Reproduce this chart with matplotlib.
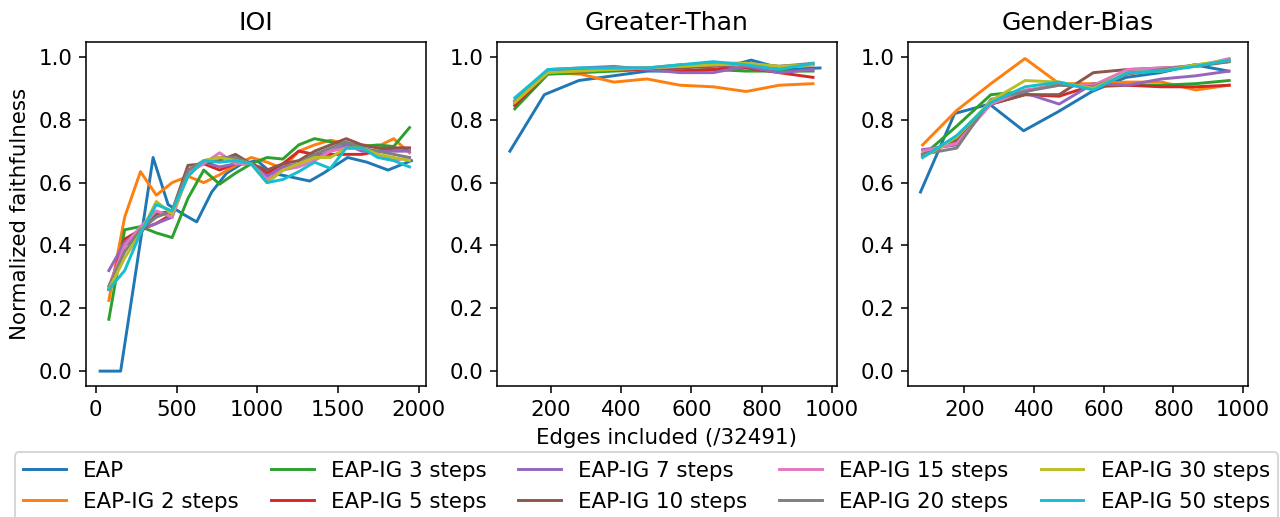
import matplotlib.pyplot as plt

labels = ['EAP', 'EAP-IG 2 steps', 'EAP-IG 3 steps', 'EAP-IG 5 steps', 'EAP-IG 7 steps',
          'EAP-IG 10 steps', 'EAP-IG 15 steps', 'EAP-IG 20 steps', 'EAP-IG 30 steps',
          'EAP-IG 50 steps']
titles = ['IOI', 'Greater-Than', 'Gender-Bias']

# IOI: EAP was evaluated at slightly different edge counts
ioi_x_eap = [27, 154, 255, 355, 448, 540, 625, 718, 810, 905, 1000, 1090, 1190, 1325,
             1410, 1560, 1680, 1810, 1955]
ioi_x = [81, 179, 277, 375, 473, 571, 669, 767, 865, 963, 1061, 1159, 1257, 1355, 1453,
         1551, 1649, 1747, 1845, 1943]
ioi_vals = [
    [0.0, 0.0, 0.34, 0.68, 0.53, 0.50, 0.475, 0.57, 0.63, 0.66, 0.67, 0.63, 0.62, 0.605,
     0.63, 0.68, 0.665, 0.64, 0.67],
    [0.225, 0.49, 0.635, 0.56, 0.60, 0.62, 0.60, 0.625, 0.655, 0.68, 0.665, 0.645, 0.70,
     0.72, 0.735, 0.725, 0.72, 0.715, 0.74, 0.695],
    [0.165, 0.45, 0.46, 0.44, 0.425, 0.55, 0.64, 0.595, 0.63, 0.66, 0.68, 0.675, 0.72,
     0.74, 0.73, 0.72, 0.715, 0.72, 0.715, 0.775],
    [0.26, 0.42, 0.45, 0.47, 0.50, 0.64, 0.66, 0.64, 0.66, 0.66, 0.63, 0.66, 0.70, 0.69,
     0.69, 0.69, 0.69, 0.70, 0.71, 0.71],
    [0.32, 0.41, 0.45, 0.47, 0.49, 0.63, 0.665, 0.65, 0.66, 0.66, 0.62, 0.65, 0.66, 0.68,
     0.70, 0.72, 0.70, 0.70, 0.70, 0.70],
    [0.26, 0.40, 0.44, 0.50, 0.51, 0.655, 0.66, 0.67, 0.69, 0.66, 0.64, 0.66, 0.67, 0.70,
     0.72, 0.74, 0.72, 0.71, 0.71, 0.71],
    [0.27, 0.40, 0.46, 0.51, 0.49, 0.63, 0.66, 0.695, 0.66, 0.66, 0.61, 0.64, 0.65, 0.67,
     0.70, 0.71, 0.71, 0.69, 0.67, 0.68],
    [0.27, 0.38, 0.45, 0.49, 0.51, 0.64, 0.67, 0.68, 0.68, 0.66, 0.60, 0.64, 0.66, 0.69,
     0.71, 0.73, 0.71, 0.70, 0.69, 0.68],
    [0.26, 0.36, 0.44, 0.54, 0.50, 0.62, 0.67, 0.68, 0.67, 0.66, 0.60, 0.64, 0.66, 0.68,
     0.68, 0.71, 0.71, 0.69, 0.68, 0.67],
    [0.26, 0.32, 0.44, 0.53, 0.51, 0.62, 0.67, 0.665, 0.67, 0.66, 0.60, 0.61, 0.635, 0.665,
     0.645, 0.71, 0.71, 0.68, 0.67, 0.65],
]

gt_x_eap = [84, 182, 280, 378, 476, 574, 672, 770, 868, 966]
gt_x = [98, 192, 286, 380, 474, 568, 662, 756, 850, 946]
gt_vals = [
    [0.70, 0.88, 0.925, 0.94, 0.955, 0.955, 0.96, 0.99, 0.96, 0.965],
    [0.85, 0.95, 0.945, 0.92, 0.93, 0.91, 0.905, 0.89, 0.91, 0.915],
    [0.835, 0.945, 0.95, 0.955, 0.96, 0.955, 0.96, 0.955, 0.955, 0.955],
    [0.845, 0.95, 0.955, 0.96, 0.96, 0.955, 0.96, 0.965, 0.95, 0.935],
    [0.86, 0.96, 0.965, 0.97, 0.96, 0.95, 0.95, 0.97, 0.95, 0.96],
    [0.855, 0.955, 0.96, 0.96, 0.965, 0.965, 0.97, 0.975, 0.97, 0.975],
    [0.86, 0.955, 0.96, 0.965, 0.965, 0.97, 0.975, 0.975, 0.97, 0.975],
    [0.86, 0.955, 0.96, 0.965, 0.965, 0.975, 0.98, 0.98, 0.97, 0.98],
    [0.855, 0.95, 0.955, 0.96, 0.965, 0.97, 0.975, 0.98, 0.97, 0.975],
    [0.87, 0.96, 0.965, 0.965, 0.965, 0.975, 0.985, 0.975, 0.96, 0.98],
]

gb_x_eap = [74, 172, 272, 370, 468, 566, 664, 762, 860, 958]
gb_x = [80, 178, 276, 374, 472, 570, 668, 766, 864, 960]
gb_vals = [
    [0.57, 0.82, 0.85, 0.765, 0.825, 0.89, 0.935, 0.95, 0.975, 0.955],
    [0.72, 0.83, 0.915, 0.995, 0.915, 0.915, 0.92, 0.92, 0.895, 0.91],
    [0.685, 0.78, 0.88, 0.89, 0.915, 0.905, 0.91, 0.91, 0.915, 0.925],
    [0.69, 0.735, 0.85, 0.88, 0.875, 0.91, 0.91, 0.905, 0.905, 0.91],
    [0.705, 0.72, 0.855, 0.885, 0.85, 0.915, 0.91, 0.93, 0.94, 0.955],
    [0.69, 0.735, 0.85, 0.88, 0.88, 0.95, 0.96, 0.965, 0.97, 0.985],
    [0.70, 0.725, 0.85, 0.895, 0.91, 0.91, 0.96, 0.965, 0.97, 0.995],
    [0.69, 0.71, 0.865, 0.89, 0.91, 0.905, 0.945, 0.96, 0.975, 0.985],
    [0.68, 0.745, 0.86, 0.925, 0.92, 0.90, 0.95, 0.955, 0.975, 0.99],
    [0.68, 0.75, 0.855, 0.905, 0.92, 0.895, 0.95, 0.955, 0.97, 0.99],
]

panels = [(ioi_x_eap, ioi_x, ioi_vals), (gt_x_eap, gt_x, gt_vals), (gb_x_eap, gb_x, gb_vals)]
xlims = [(-62, 2044), (47, 1014), (38, 1014)]

plt.rcParams['font.size'] = 11
plt.rcParams['axes.titlesize'] = 13

fig, axes = plt.subplots(1, 3, figsize=(1280 / 140, 517 / 140), dpi=140, sharey=True)
fig.subplots_adjust(left=0.067, right=0.975, top=0.919, bottom=0.253, wspace=0.209)

for ax, title, (xe, xo, vals), xl in zip(axes, titles, panels, xlims):
    for i, (lab, v) in enumerate(zip(labels, vals)):
        ax.plot(xe if i == 0 else xo, v, label=lab)
    ax.set_title(title)
    ax.set_xlim(xl)
    ax.tick_params(labelleft=True)

axes[0].set_ylim(-0.048, 1.048)
axes[0].set_ylabel('Normalized faithfulness')
axes[1].set_xlabel('Edges included (/32491)')

handles, labs = axes[0].get_legend_handles_labels()
fig.legend(handles, labs, loc='lower center', bbox_to_anchor=(0.505, -0.008), ncol=5,
           borderaxespad=0.05, fontsize=11, columnspacing=1.5)

fig.savefig('out.png', dpi=140)
